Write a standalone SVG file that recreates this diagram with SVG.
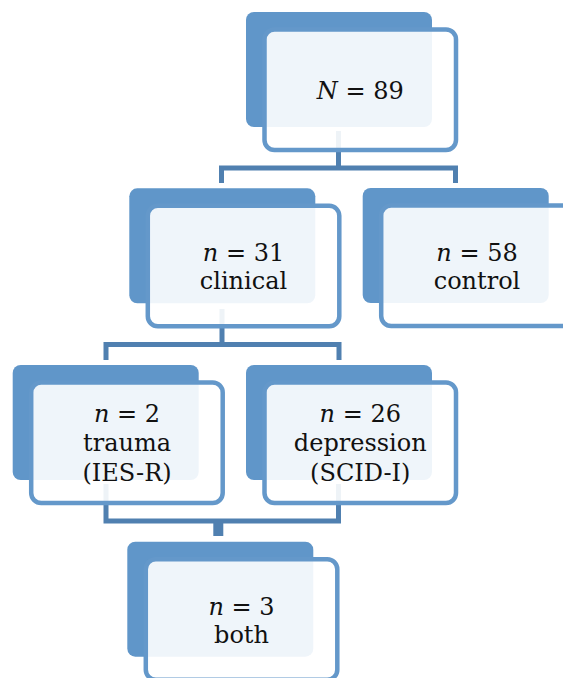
<svg xmlns="http://www.w3.org/2000/svg" width="563" height="678" viewBox="0 0 563 678">
<style>
.back{fill:#6096c9}
.front{fill:#ffffff;fill-opacity:0.9;stroke:#6498ca;stroke-width:4.5}
.conn{fill:none;stroke:#5080b0;stroke-width:5;stroke-linejoin:miter;stroke-linecap:butt}
text{font-family:"DejaVu Serif","Liberation Serif",serif;font-size:24px;fill:#111;text-anchor:middle}
.i{font-style:italic}
</style>
<rect width="563" height="678" fill="#fff"/>
<g id="connectors">
<path class="conn" d="M338.5,131 V168 M221.5,183 V168 H455.5 V183"/>
<path class="conn" d="M222,309 V344.5 M106,360 V344.5 H339 V360"/>
<path class="conn" d="M106,484 V521 H338.5 V484"/>
<path class="conn" d="M218.3,521 V536" style="stroke-width:10"/>
</g>
<g id="node-total">
<rect class="back" x="246" y="12" width="186" height="115" rx="8"/>
<rect class="front" x="264.5" y="29.5" width="191.5" height="120.5" rx="10"/>
<text x="360.25" y="99"><tspan class="i">N</tspan> = 89</text>
</g>
<g id="node-clinical">
<rect class="back" x="129.3" y="188.3" width="186" height="115" rx="8"/>
<rect class="front" x="147.8" y="205.8" width="191.5" height="120.5" rx="10"/>
<text x="243.5" y="260.5"><tspan class="i">n</tspan> = 31</text>
<text x="243.5" y="288.5">clinical</text>
</g>
<g id="node-control">
<rect class="back" x="362.7" y="188" width="186" height="115" rx="8"/>
<rect class="front" x="381.2" y="205.5" width="191.5" height="120.5" rx="10"/>
<text x="477" y="260.5"><tspan class="i">n</tspan> = 58</text>
<text x="477" y="288.5">control</text>
</g>
<g id="node-trauma">
<rect class="back" x="12.7" y="365" width="186" height="115" rx="8"/>
<rect class="front" x="31.2" y="382.5" width="191.5" height="120.5" rx="10"/>
<text x="127" y="421.5"><tspan class="i">n</tspan> = 2</text>
<text x="127" y="451">trauma</text>
<text x="127" y="481">(IES-R)</text>
</g>
<g id="node-depression">
<rect class="back" x="246" y="365" width="186" height="115" rx="8"/>
<rect class="front" x="264.5" y="382.5" width="191.5" height="120.5" rx="10"/>
<text x="360.25" y="421.5"><tspan class="i">n</tspan> = 26</text>
<text x="360.25" y="451">depression</text>
<text x="360.25" y="481">(SCID-I)</text>
</g>
<g id="node-both">
<rect class="back" x="127.3" y="541.7" width="186" height="115" rx="8"/>
<rect class="front" x="145.8" y="559.2" width="191.5" height="120.5" rx="10"/>
<text x="241.5" y="614.5"><tspan class="i">n</tspan> = 3</text>
<text x="241.5" y="642.5">both</text>
</g>
</svg>
